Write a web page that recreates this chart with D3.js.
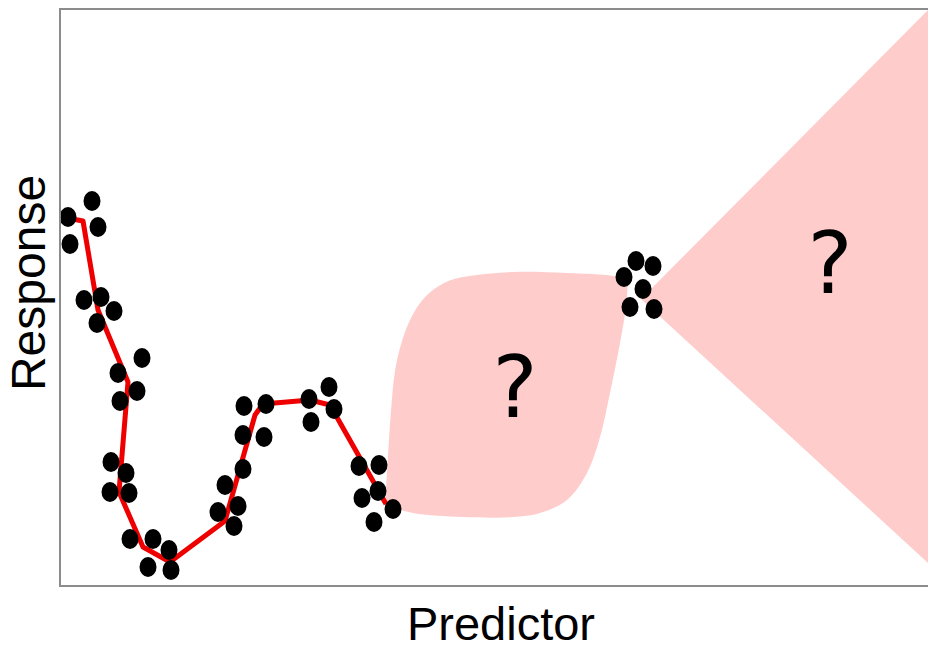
<!DOCTYPE html>
<html>
<head>
<meta charset="utf-8">
<script src="https://cdn.jsdelivr.net/npm/d3@7"></script>
<style>
  html, body { margin: 0; padding: 0; background: #fff; }
  svg { display: block; }
</style>
</head>
<body>
<div id="chart"></div>
<script>
// ---- data (arbitrary units: predictor 0..868, response 0..577) ----
const pointX = [8,10,32,38, 24,41,54,37, 82,58,77,60, 51,66,50,69, 70,93,109,88,111,
                165,183,158,178,174, 184,206,183,204, 249,269,274,251,
                299,319,318,302,333,314, 576,593,564,583,570,594];
const pointY = [369,342,385,359, 286,289,275,263, 228,213,195,185, 124,113,94,93, 47,47,36,19,16,
                101,117,74,80,60, 180,182,151,149, 187,199,177,164,
                120,121,95,88,77,64, 325,320,309,297,279,277];

const fitX = [7,23,38,68,59,83,110,165,195,203,250,270,326];
const fitY = [368,365,276,204,94,39,24,65,171,182,186,181,82];

const gapUpperX = [325,328,331,335,342,352,366,384,403,453,507,553,568];
const gapUpperY = [81,130,175,215,245,270,290,303,309,314,313,310,306];
const gapLowerX = [325,353,403,453,480,507,527,540,550,560,566,568];
const gapLowerY = [81,73,69,69,73,86,113,149,193,243,279,306];

const wedgeX = [581,880,880];
const wedgeY = [287,588,12];

const unknownLabels = ["?","?"];
const unknownX = [455,770];
const unknownY = [169,293];

const xLabel = "Predictor";
const yLabel = "Response";

// ---- layout ----
const W = 928, H = 649;
const mLeft = 60, mTop = 9, mBottom = 586, mRight = 940;

const x = d3.scaleLinear().domain([0, 868]).range([mLeft, 928]);
const y = d3.scaleLinear().domain([0, 577]).range([mBottom, mTop]);

const svg = d3.select("#chart").append("svg").attr("width", W).attr("height", H);

svg.append("defs").append("clipPath").attr("id", "plotclip")
  .append("rect").attr("x", mLeft).attr("y", mTop).attr("width", mRight - mLeft).attr("height", mBottom - mTop);

const plot = svg.append("g").attr("clip-path", "url(#plotclip)");

const pink = "#ffcccc";

// gap band
const cr = d3.line().x(d => x(d[0])).y(d => y(d[1])).curve(d3.curveCatmullRom.alpha(0.5));
const upper = gapUpperX.map((v, i) => [v, gapUpperY[i]]);
const lower = gapLowerX.map((v, i) => [v, gapLowerY[i]]).reverse();
const pathD = cr(upper) + cr(lower).replace(/^M/, "L") + "Z";
plot.append("path").attr("d", pathD).attr("fill", pink);

// extrapolation wedge
const wedge = wedgeX.map((v, i) => [v, wedgeY[i]]);
plot.append("path")
  .attr("d", d3.line().x(d => x(d[0])).y(d => y(d[1]))(wedge) + "Z")
  .attr("fill", pink);

// fitted line
const fit = fitX.map((v, i) => [v, fitY[i]]);
plot.append("path")
  .attr("d", d3.line().x(d => x(d[0])).y(d => y(d[1]))(fit))
  .attr("fill", "none").attr("stroke", "#ee0000").attr("stroke-width", 5)
  .attr("stroke-linejoin", "round");

// points
plot.selectAll("ellipse.pt").data(pointX.map((v, i) => [v, pointY[i]]))
  .join("ellipse").attr("class", "pt")
  .attr("cx", d => x(d[0])).attr("cy", d => y(d[1]))
  .attr("rx", 8.5).attr("ry", 10).attr("fill", "#000");

// question marks
plot.selectAll("text.q").data(unknownLabels.map((t, i) => [t, unknownX[i], unknownY[i]]))
  .join("text").attr("class", "q")
  .attr("x", d => x(d[1])).attr("y", d => y(d[2]))
  .attr("text-anchor", "middle")
  .attr("font-family", "DejaVu Sans")
  .attr("font-size", 85)
  .attr("fill", "#000")
  .text(d => d[0]);

// frame
svg.append("rect").attr("x", mLeft).attr("y", mTop)
  .attr("width", mRight - mLeft).attr("height", mBottom - mTop)
  .attr("fill", "none").attr("stroke", "#8c8c8c").attr("stroke-width", 2);

// axis labels
svg.append("text").attr("x", 501).attr("y", 640)
  .attr("text-anchor", "middle").attr("font-family", "Liberation Sans")
  .attr("font-size", 47).attr("fill", "#000").text(xLabel);

svg.append("text").attr("transform", "translate(45,283) rotate(-90)")
  .attr("text-anchor", "middle").attr("font-family", "Liberation Sans")
  .attr("font-size", 48).attr("fill", "#000").text(yLabel);
</script>
</body>
</html>
